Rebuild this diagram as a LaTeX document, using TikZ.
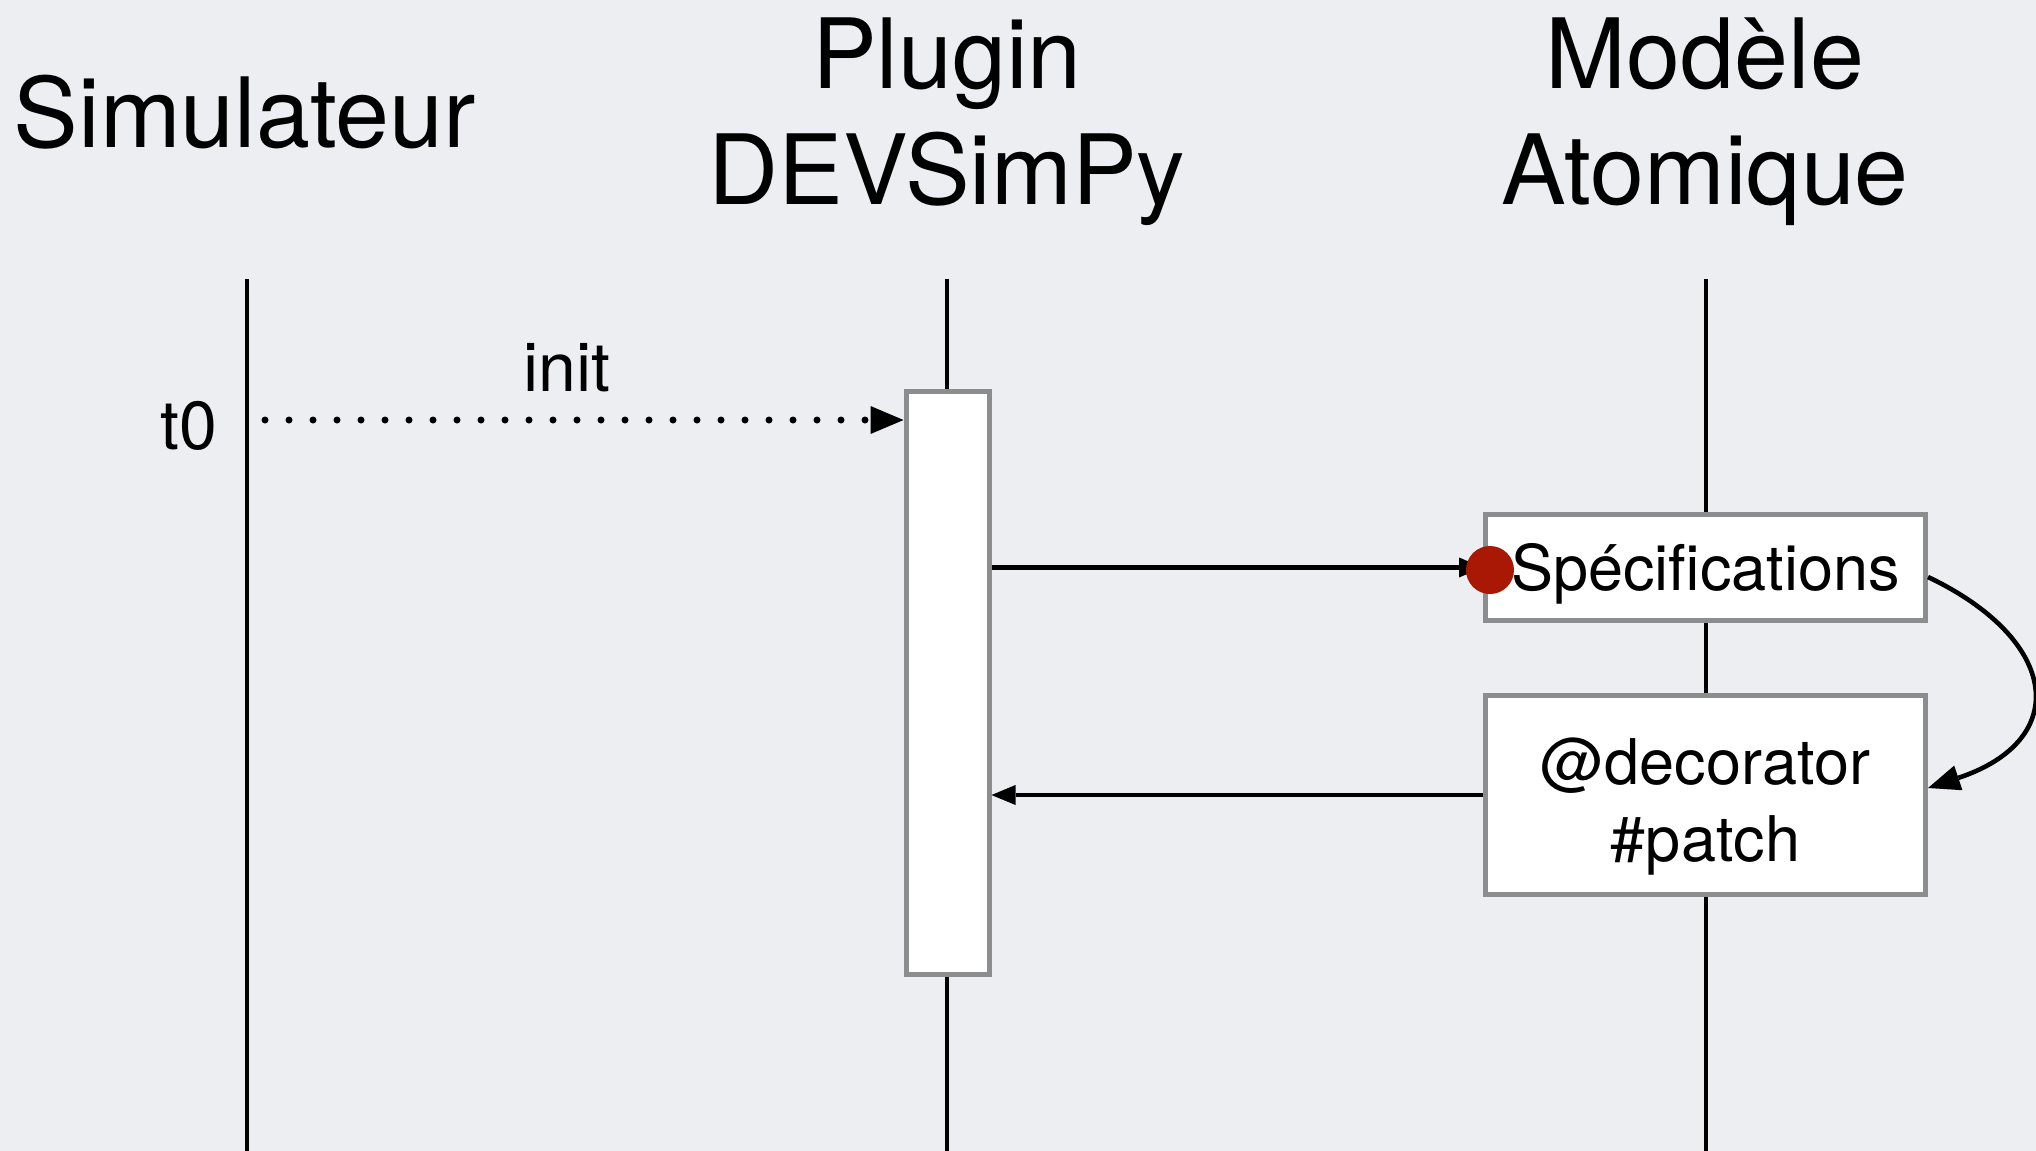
\documentclass[tikz,border=0pt]{standalone}
\usepackage{fontspec}
\setmainfont{TeX Gyre Heros}
\usetikzlibrary{arrows.meta}
\definecolor{bg}{RGB}{237,238,242}
\definecolor{boxgray}{RGB}{140,141,143}
\definecolor{dotred}{RGB}{168,24,4}
\begin{document}
\begin{tikzpicture}[x=0.5pt,y=-0.5pt,
  life/.style={line width=2pt},
  msg/.style={line width=2.3pt},
  actbox/.style={draw=boxgray, fill=white, line width=2.5pt, minimum width=41.5pt, minimum height=291.5pt, inner sep=0pt},
  objbox/.style={draw=boxgray, fill=white, line width=2.5pt, minimum width=220pt, inner sep=0pt, align=center, font=\fontsize{31.5}{38.5}\selectfont},
  head/.style={font=\fontsize{48.5}{58}\selectfont, align=center, inner sep=0pt, anchor=base},
  lbl/.style={font=\fontsize{34}{40}\selectfont, inner sep=0pt},
  tipbig/.style={-{Triangle[length=16.5pt,width=14pt,line width=0pt]}},
  tipsmall/.style={-{Triangle[length=12pt,width=10pt,line width=0pt]}},
  tipcurve/.style={-{Triangle[length=16pt,width=13pt,line width=0pt]}}]
\fill[bg] (0,0) rectangle (2036,1151);
\useasboundingbox (0,0) rectangle (2036,1151);

% headers
\node[head] (hsim) at (245,147) {Simulateur};
\node[head] (hplug) at (947,204) {Plugin\\DEVSimPy};
\node[head] (hmod) at (1705,204) {Modèle\\Atomique};

% lifelines
\coordinate (simTop) at (247,279); \coordinate (simBot) at (247,1151);
\coordinate (plugTop) at (947,279); \coordinate (plugBot) at (947,1151);
\coordinate (modTop) at (1706,279); \coordinate (modBot) at (1706,1151);
\draw[life] (simTop) -- (simBot);
\draw[life] (plugTop) -- (plugBot);
\draw[life] (modTop) -- (modBot);

% boxes
\node[actbox] (act) at (947.5,682.5) {};
\node[objbox, minimum height=53pt, text height=22.5pt, text depth=0pt] (spec) at (1705.5,567.5) {Spécifications};
\node[objbox, minimum height=99.5pt, text height=66pt, text depth=0pt] (deco) at (1705.5,795) {@decorator\\\#patch};

% labels
\node[lbl, anchor=base] (init) at (567,391) {init};
\node[lbl, anchor=base east] (t0) at (218,449) {t0};

% messages
\coordinate (initStart) at (265,420);
\draw[line width=3.5pt, line cap=round, dash pattern=on 0pt off 12pt, tipbig] (initStart) -- (initStart -| act.west);
\draw[msg, tipsmall] (act.east |- spec.west) -- (spec.west);
\draw[msg, tipsmall] (deco.west) -- (deco.west -| act.east);
\draw[msg, tipcurve] ([yshift=-4.75pt]spec.east) .. controls (2060,640) and (2072,740) .. ([yshift=3.5pt]deco.east);

% red dot
\node[circle, fill=dotred, minimum size=24pt, inner sep=0pt] (dot) at (1490,570) {};
\end{tikzpicture}
\end{document}
